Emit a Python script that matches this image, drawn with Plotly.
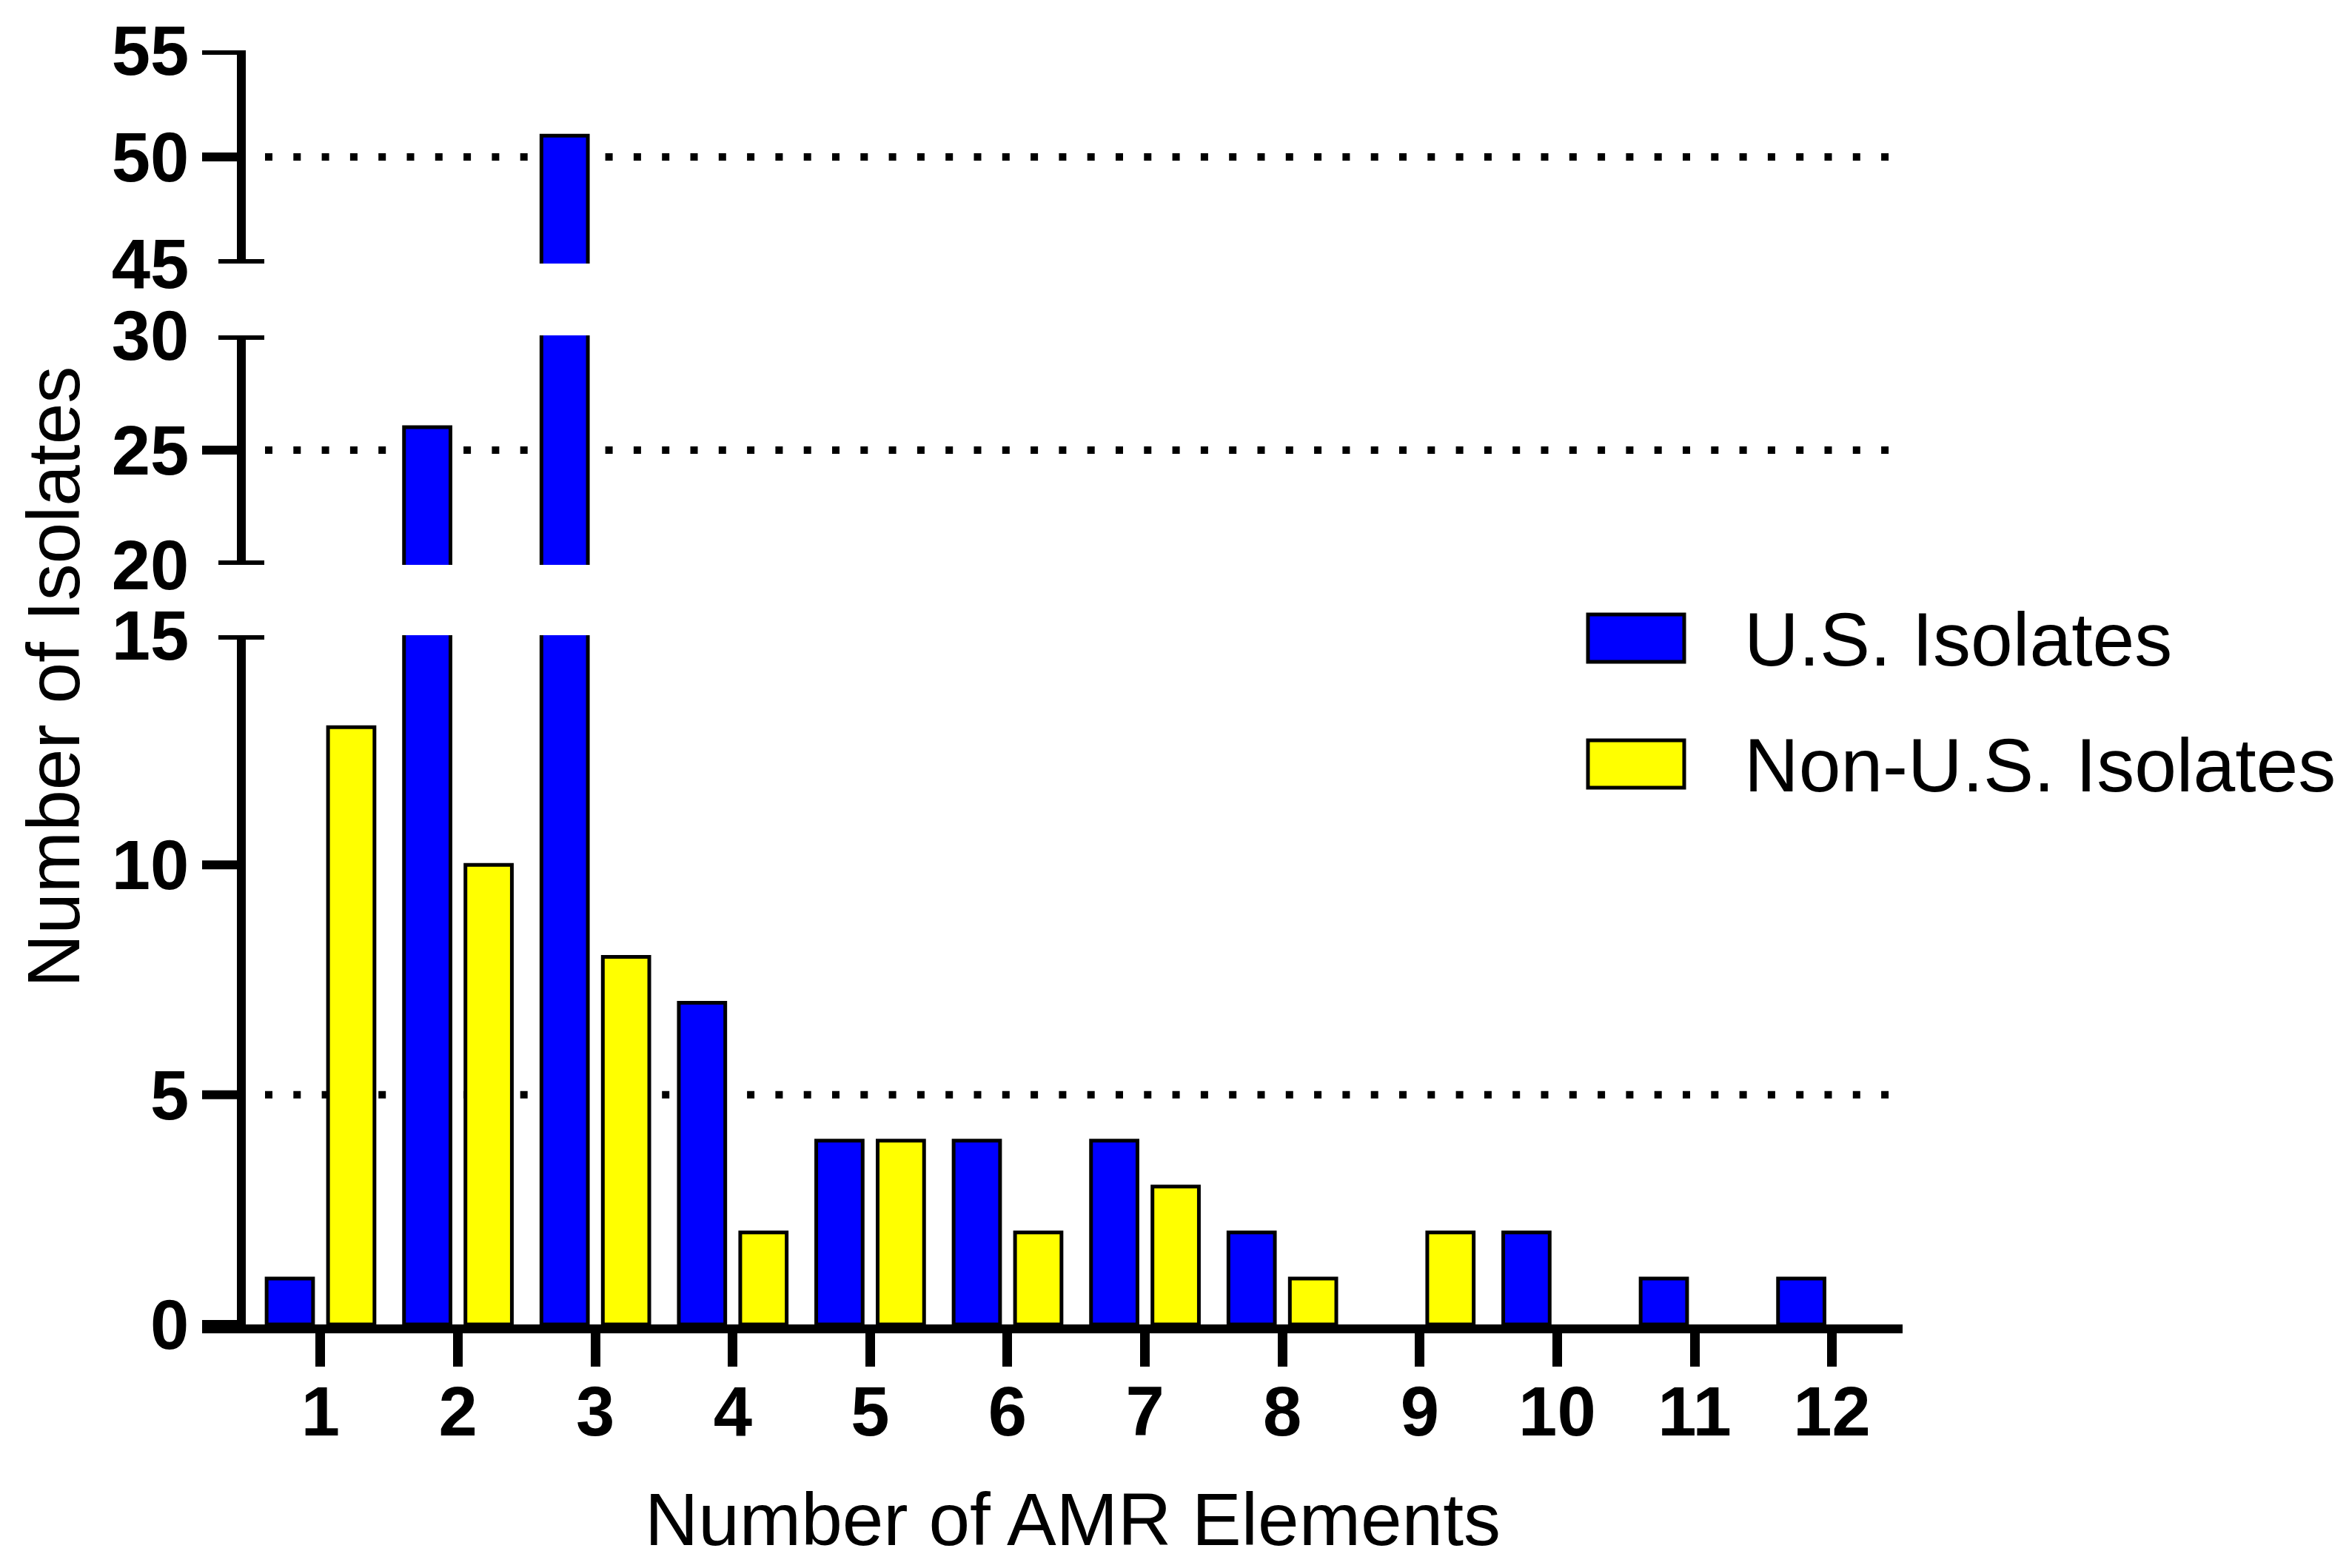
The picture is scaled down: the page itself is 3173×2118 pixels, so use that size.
import plotly.graph_objects as go

# ---------------- data ----------------
categories = list(range(1, 13))
us_counts = [1, 26, 51, 7, 4, 4, 4, 2, 0, 2, 1, 1]
non_us_counts = [13, 10, 8, 2, 4, 2, 3, 1, 2, 0, 0, 0]
series_names = ["U.S. Isolates", "Non-U.S. Isolates"]
series_colors = ["#0000FF", "#FFFF00"]

# broken y-axis segments
seg_bottom_range = [0, 15]
seg_bottom_ticks = [0, 5, 10, 15]
seg_middle_range = [20, 30]
seg_middle_ticks = [20, 25, 30]
seg_top_range = [45, 55]
seg_top_ticks = [45, 50, 55]
grid_values = {"y": [5], "y2": [25], "y3": [50]}
cap_values = {"y": [15], "y2": [20, 30], "y3": [45]}
regular_ticks = {"y": [0, 5, 10], "y2": [25], "y3": [50, 55]}

x_title = "Number of AMR Elements"
y_title = "Number of Isolates"

# ---------------- layout geometry ----------------
# page body has an 8px margin, so the figure is drawn 8px smaller and offset
BODY = 8
W, H = 3173 - 2 * BODY, 2118 - 2 * BODY
PLOT_L, PLOT_R, PLOT_T, PLOT_B = 273, 2570, 68, 1789   # in page pixels
ML = PLOT_L - BODY
MT = PLOT_T - BODY
PW = PLOT_R - PLOT_L
PH = PLOT_B - PLOT_T
MR = W - ML - PW
MB = H - MT - PH
FONT = "Liberation Sans, Arial, sans-serif"
LW = 12


def px_x(p):
    return (p - PLOT_L) / PW


def px_y(p):
    return (PLOT_B - p) / PH


yaxis_pos = px_x(326)
dom_bottom = [0, px_y(858)]
dom_middle = [px_y(763), px_y(453)]
dom_top = [px_y(356), 1]

fig = go.Figure()


def clean(vals):
    return [v if v else None for v in vals]


for yax in ["y", "y2", "y3"]:
    for name, vals, col in zip(series_names, [us_counts, non_us_counts], series_colors):
        fig.add_trace(go.Bar(
            x=categories, y=clean(vals), name=name, xaxis="x", yaxis=yax,
            marker=dict(color=col, line=dict(color="black", width=5)),
            showlegend=False, hoverinfo="x+y+name",
        ))

tickfont = dict(family=FONT, size=94, color="black", weight="bold")


def yaxis_cfg(rng, ticks, dom):
    return dict(
        range=rng, domain=dom, tickvals=ticks, ticktext=[str(t) for t in ticks],
        ticks="", showgrid=False, zeroline=False, showline=True, linewidth=LW,
        linecolor="black", tickfont=tickfont, anchor="free", position=yaxis_pos,
        ticklabelstandoff=46, fixedrange=True, automargin=False,
        ticklabeloverflow="allow",
    )


fig.update_layout(
    template="none",
    width=W, height=H,
    margin=dict(l=ML, r=MR, t=MT, b=MB, pad=0),
    paper_bgcolor="white", plot_bgcolor="white",
    barmode="group", bargap=0.106, bargroupgap=0.244,
    xaxis=dict(
        range=[0.138, 12.514], tickvals=categories, ticktext=[str(c) for c in categories],
        ticks="outside", ticklen=45, tickwidth=13, tickcolor="black",
        showline=True, linewidth=LW, linecolor="black", showgrid=False, zeroline=False,
        tickfont=tickfont, anchor="y", ticklabelstandoff=-20, automargin=False,
        fixedrange=True, ticklabeloverflow="allow",
    ),
    yaxis=yaxis_cfg(seg_bottom_range, seg_bottom_ticks, dom_bottom),
    yaxis2=yaxis_cfg(seg_middle_range, seg_middle_ticks, dom_middle),
    yaxis3=yaxis_cfg(seg_top_range, seg_top_ticks, dom_top),
    showlegend=False,
)

shapes = []
for yax in ["y", "y2", "y3"]:
    for v in grid_values[yax]:
        shapes.append(dict(type="line", xref="paper", yref=yax, x0=px_x(358), x1=1, y0=v, y1=v,
                           line=dict(color="black", width=10, dash="10px,28.3px"), layer="below"))
    for v in regular_ticks[yax]:
        shapes.append(dict(type="line", xref="paper", yref=yax, x0=0, x1=yaxis_pos, y0=v, y1=v,
                           line=dict(color="black", width=LW)))
    for v in cap_values[yax]:
        shapes.append(dict(type="line", xref="paper", yref=yax, x0=px_x(295), x1=px_x(357), y0=v, y1=v,
                           line=dict(color="black", width=LW)))

# legend (manual, large swatches)
legend_rows = [(830, 894, 864), (1000, 1064, 1034)]
annotations = []
for (top, bot, mid), name, col in zip(legend_rows, series_names, series_colors):
    shapes.append(dict(type="rect", xref="paper", yref="paper",
                       x0=px_x(2145), x1=px_x(2275), y0=px_y(bot), y1=px_y(top),
                       fillcolor=col, line=dict(color="black", width=5)))
    annotations.append(dict(xref="paper", yref="paper", x=px_x(2354), y=px_y(mid),
                            text=name, showarrow=False, xanchor="left", yanchor="middle",
                            font=dict(family=FONT, size=102, color="black")))

annotations.append(dict(xref="paper", yref="paper", x=px_x(1449), y=px_y(2052), text=x_title,
                        showarrow=False, xanchor="center", yanchor="middle",
                        font=dict(family=FONT, size=100, color="black")))
annotations.append(dict(xref="paper", yref="paper", x=px_x(72), y=px_y(915), text=y_title, textangle=-90,
                        showarrow=False, xanchor="center", yanchor="middle",
                        font=dict(family=FONT, size=100, color="black")))

fig.update_layout(shapes=shapes, annotations=annotations)
fig.write_html("out.html")
